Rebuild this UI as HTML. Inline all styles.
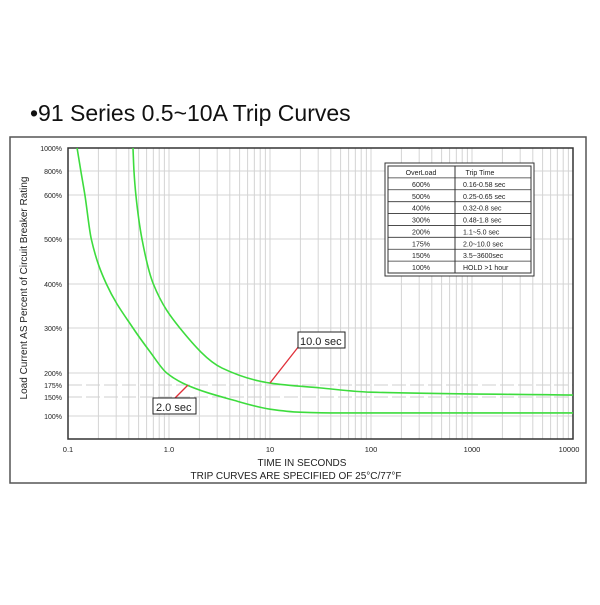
<!DOCTYPE html>
<html><head><meta charset="utf-8"><style>
body{margin:0;background:#fff;}
svg text{font-family:"Liberation Sans",sans-serif;}
</style></head><body>
<svg id="c" width="600" height="600" viewBox="0 0 600 600">
<text x="30" y="121" font-size="23" fill="#111">•91 Series 0.5~10A Trip Curves</text>
<rect x="10" y="137" width="576" height="346" fill="#fff" stroke="#555" stroke-width="1.5"/>
<g id="grid"></g>
<g id="axes"></g>
<g id="curves"></g>
<g font-size="7" fill="#222">
<rect x="385" y="163" width="149" height="113" fill="#fff" stroke="#333" stroke-width="1"/>
<rect x="388" y="166" width="143" height="107" fill="none" stroke="#333" stroke-width="1"/>
<line x1="455" y1="166" x2="455" y2="273" stroke="#333"/>
<g id="tbl"></g>
</g>
<g>
<line x1="299" y1="346" x2="270" y2="383" stroke="#e0303a" stroke-width="1.3"/>
<rect x="298" y="332" width="47" height="16" fill="#fff" stroke="#222"/>
<text x="300" y="345" font-size="11" fill="#222">10.0 sec</text>
</g>
<g>
<line x1="174" y1="399" x2="188" y2="385" stroke="#e0303a" stroke-width="1.3"/>
<rect x="153" y="398" width="43" height="16" fill="#fff" stroke="#222"/>
<text x="156" y="411" font-size="11" fill="#222">2.0 sec</text>
</g>
<text x="302" y="466" font-size="10" text-anchor="middle" fill="#222">TIME IN SECONDS</text>
<text x="296" y="479" font-size="10" text-anchor="middle" fill="#222">TRIP CURVES ARE SPECIFIED OF 25°C/77°F</text>
<text transform="translate(27,288) rotate(-90)" font-size="10" text-anchor="middle" fill="#222">Load Current AS Percent of Circuit Breaker Rating</text>
</svg>
<script>
const xTicks=[0.1,1,10,100,1000,10000];
const xTickLabels=["0.1","1.0","10","100","1000","10000"];
const yTicks=[100,150,175,200,300,400,500,600,800,1000];
const yTickLabels=["100%","150%","175%","200%","300%","400%","500%","600%","800%","1000%"];
const yTickPix=[416,397,385,373,328,284,239,195,171,148];
const upperT=[0.44,0.45,0.47,0.54,0.70,1.28,3.35,10,31,100,10000];
const upperP=[1000,800,600,500,400,300,211,179,169,160,154];
const lowerT=[0.123,0.134,0.147,0.17,0.24,0.44,0.65,0.95,1.5,4.3,10,19.8,49,10000];
const lowerP=[1000,800,600,500,400,300,247,200,175,142,118,110,108,108];
const tblLoad=["OverLoad","600%","500%","400%","300%","200%","175%","150%","100%"];
const tblTime=["Trip Time","0.16-0.58  sec","0.25-0.65  sec","0.32-0.8   sec","0.48-1.8   sec","1.1~5.0 sec","2.0~10.0    sec","3.5~3600sec","HOLD  >1 hour"];
const L=68,R=573,T=148,B=439;
const NS="http://www.w3.org/2000/svg";
function xs(t){return L+(Math.log10(t)+1)*(R-L)/5;}
function ys(p){
  for(let i=0;i<yTicks.length-1;i++){
    if(p<=yTicks[i+1]){const f=(p-yTicks[i])/(yTicks[i+1]-yTicks[i]);return yTickPix[i]+f*(yTickPix[i+1]-yTickPix[i]);}
  }
  return yTickPix[yTickPix.length-1];
}
function mk(tag,attrs,parent){const e=document.createElementNS(NS,tag);for(const k in attrs)e.setAttribute(k,attrs[k]);parent.appendChild(e);return e;}
const grid=document.getElementById('grid'),axes=document.getElementById('axes'),curves=document.getElementById('curves');
for(let d=-1;d<4;d++){for(let m=1;m<10;m++){const x=xs(m*Math.pow(10,d));
  const l=mk('line',{x1:x,y1:T,x2:x,y2:B,stroke:'#d4d4d4','stroke-width':1},grid);
  
  }}
yTicks.forEach((p,i)=>{const y=ys(p);
  const l=mk('line',{x1:L,y1:y,x2:R,y2:y,stroke:(p==150||p==175)?'#cfcfcf':'#d4d4d4','stroke-width':1,'stroke-dasharray':(p==150||p==175)?'14 4':'none'},grid);
  
  
  const t=mk('text',{x:L-6,y:y+3,'font-size':7,'text-anchor':'end',fill:'#222'},axes);t.textContent=yTickLabels[i];
  
  });
xTicks.forEach((v,i)=>{const t=mk('text',{x:xs(v)+(i==5?-4:0),y:452,'font-size':7.5,'text-anchor':'middle',fill:'#222'},axes);t.textContent=xTickLabels[i];
  
  });
const fr=mk('rect',{x:L,y:T,width:R-L,height:B-T,fill:'none',stroke:'#333','stroke-width':1.5},axes);


// monotone cubic (Fritsch-Carlson) in pixel space
function curve(ts,ps,name){
  const X=ts.map(xs),Y=ps.map(ys),n=X.length;
  const dx=[],m=[],s=[];
  for(let i=0;i<n-1;i++){dx[i]=X[i+1]-X[i];s[i]=(Y[i+1]-Y[i])/dx[i];}
  m[0]=s[0];m[n-1]=s[n-2];
  for(let i=1;i<n-1;i++){
    if(s[i-1]*s[i]<=0)m[i]=0;
    else{const w1=2*dx[i]+dx[i-1],w2=dx[i]+2*dx[i-1];m[i]=(w1+w2)/(w1/s[i-1]+w2/s[i]);}
  }
  let d='M'+X[0].toFixed(2)+','+Y[0].toFixed(2);
  for(let i=0;i<n-1;i++){
    const h=dx[i];
    d+=' C'+(X[i]+h/3).toFixed(2)+','+(Y[i]+m[i]*h/3).toFixed(2)+' '+(X[i+1]-h/3).toFixed(2)+','+(Y[i+1]-m[i+1]*h/3).toFixed(2)+' '+X[i+1].toFixed(2)+','+Y[i+1].toFixed(2);
  }
  const e=mk('path',{d:d,fill:'none',stroke:'#3ddc3d','stroke-width':1.6},curves);
  
  
}
curve(upperT,upperP,'upper-trip-curve');
curve(lowerT,lowerP,'lower-trip-curve');
const tbl=document.getElementById('tbl');
tblLoad.forEach((s,i)=>{const y=166+i*107/9;
  if(i>0){const l=mk('line',{x1:388,y1:y,x2:531,y2:y,stroke:'#333','stroke-width':0.8},tbl);
    
    }
  const a=mk('text',{x:421,y:y+9,'text-anchor':'middle'},tbl);a.textContent=s;
  
  
  const b=mk('text',{x:i==0?480:463,y:y+9,'text-anchor':i==0?'middle':'start'},tbl);b.textContent=tblTime[i];
  
  });
</script>
</body></html>
